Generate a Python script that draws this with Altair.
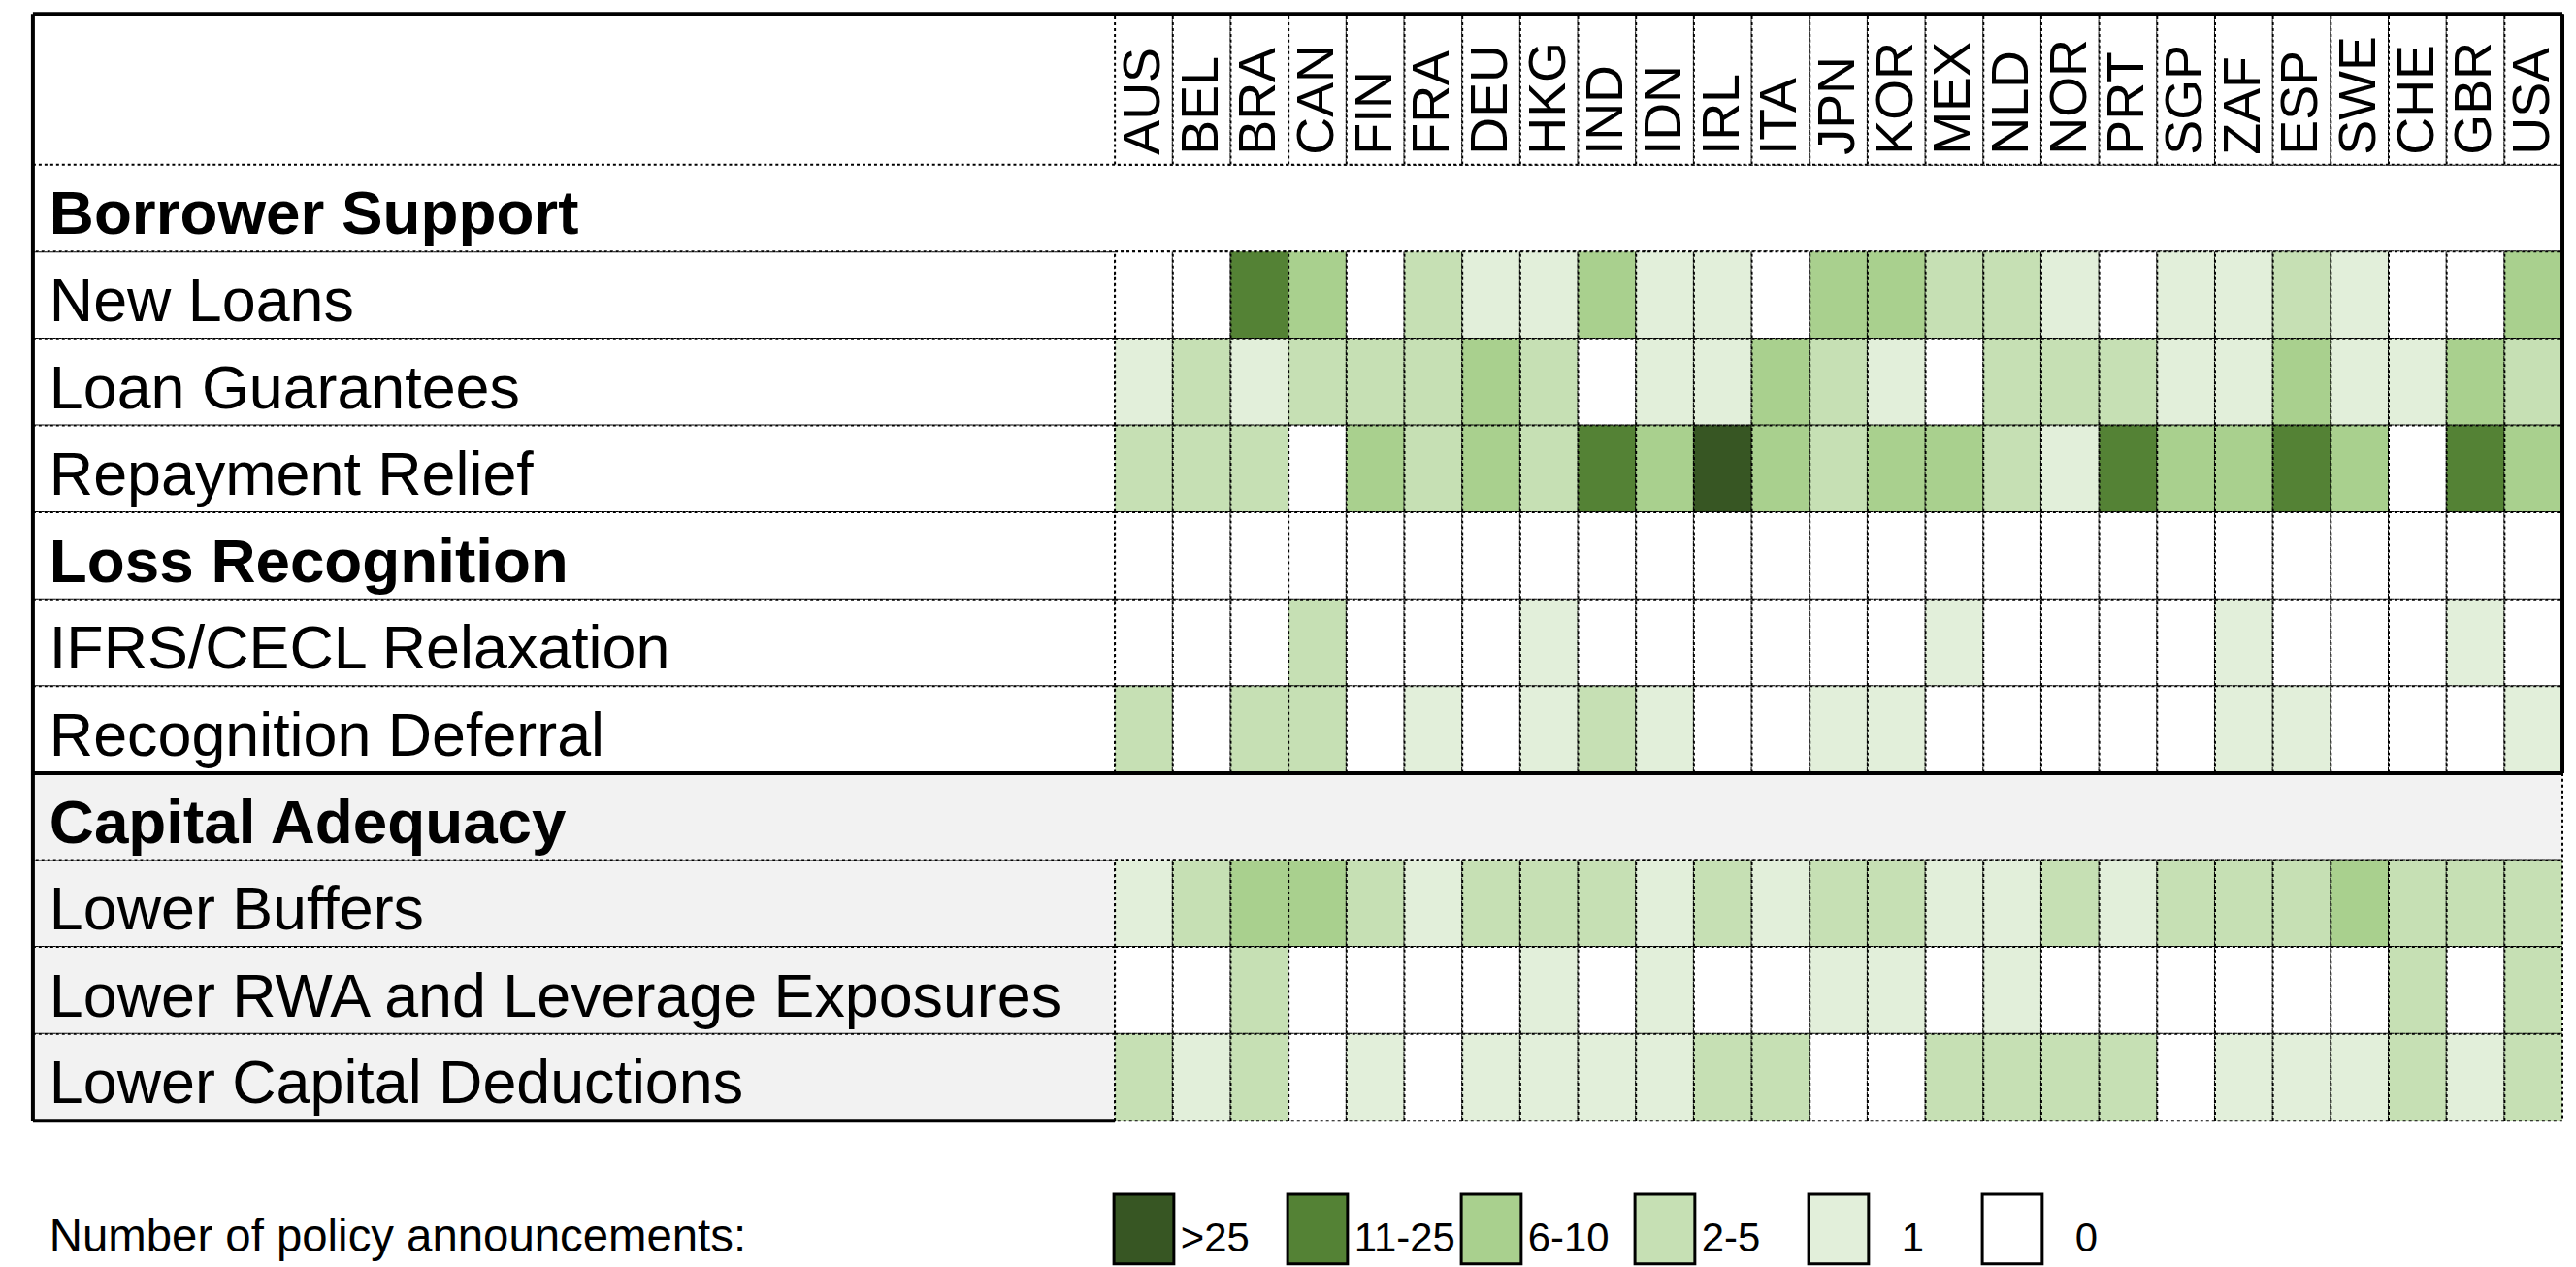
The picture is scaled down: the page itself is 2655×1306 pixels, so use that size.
import altair as alt
import pandas as pd

# ---------------- data ----------------
countries = ["AUS", "BEL", "BRA", "CAN", "FIN", "FRA", "DEU", "HKG", "IND", "IDN",
             "IRL", "ITA", "JPN", "KOR", "MEX", "NLD", "NOR", "PRT", "SGP", "ZAF",
             "ESP", "SWE", "CHE", "GBR", "USA"]

row_labels = ["Borrower Support", "New Loans", "Loan Guarantees", "Repayment Relief",
              "Loss Recognition", "IFRS/CECL Relaxation", "Recognition Deferral",
              "Capital Adequacy", "Lower Buffers", "Lower RWA and Leverage Exposures",
              "Lower Capital Deductions"]
section_rows = ["Borrower Support", "Loss Recognition", "Capital Adequacy"]
spanning_rows = ["Borrower Support", "Capital Adequacy"]
gray_rows = ["Capital Adequacy", "Lower Buffers", "Lower RWA and Leverage Exposures",
             "Lower Capital Deductions"]

bins = ["0", "1", "2-5", "6-10", "11-25", ">25"]
bin_colors = ["#FFFFFF", "#E2EFDA", "#C6E0B4", "#A9D08E", "#548235", "#375623"]
legend_order = [">25", "11-25", "6-10", "2-5", "1", "0"]
legend_title = "Number of policy announcements:"

# bin index per country (0:"0", 1:"1", 2:"2-5", 3:"6-10", 4:"11-25", 5:">25")
new_loans = [0, 0, 4, 3, 0, 2, 1, 1, 3, 1, 1, 0, 3, 3, 2, 2, 1, 0, 1, 1, 2, 1, 0, 0, 3]
loan_guarantees = [1, 2, 1, 2, 2, 2, 3, 2, 0, 1, 1, 3, 2, 1, 0, 2, 2, 2, 1, 1, 3, 1, 1, 3, 2]
repayment_relief = [2, 2, 2, 0, 3, 2, 3, 2, 4, 3, 5, 3, 2, 3, 3, 2, 1, 4, 3, 3, 4, 3, 0, 4, 3]
loss_recognition = [0] * 25
ifrs_cecl = [0, 0, 0, 2, 0, 0, 0, 1, 0, 0, 0, 0, 0, 0, 1, 0, 0, 0, 0, 1, 0, 0, 0, 1, 0]
recognition_deferral = [2, 0, 2, 2, 0, 1, 0, 1, 2, 1, 0, 0, 1, 1, 0, 0, 0, 0, 0, 1, 1, 0, 0, 0, 1]
lower_buffers = [1, 2, 3, 3, 2, 1, 2, 2, 2, 1, 2, 1, 2, 2, 1, 1, 2, 1, 2, 2, 2, 3, 2, 2, 2]
lower_rwa = [0, 0, 2, 0, 0, 0, 0, 1, 0, 1, 0, 0, 1, 1, 0, 1, 0, 0, 0, 0, 0, 0, 2, 0, 2]
lower_cap_deductions = [2, 1, 2, 0, 1, 0, 1, 1, 1, 1, 2, 2, 0, 0, 2, 2, 2, 2, 0, 1, 1, 1, 2, 1, 2]

cell_rows = {
    "New Loans": new_loans,
    "Loan Guarantees": loan_guarantees,
    "Repayment Relief": repayment_relief,
    "Loss Recognition": loss_recognition,
    "IFRS/CECL Relaxation": ifrs_cecl,
    "Recognition Deferral": recognition_deferral,
    "Lower Buffers": lower_buffers,
    "Lower RWA and Leverage Exposures": lower_rwa,
    "Lower Capital Deductions": lower_cap_deductions,
}

# ---------------- tables ----------------
cells_df = pd.DataFrame([
    {"row": r, "country": c, "bin": bins[v]}
    for r, vals in cell_rows.items() for c, v in zip(countries, vals)
])
country_df = pd.DataFrame({"country": countries})
label_df = pd.DataFrame([
    {"row": r, "bg": "#F2F2F2" if r in gray_rows else "#FFFFFF"}
    for r in row_labels if r not in spanning_rows
])
span_df = pd.DataFrame([
    {"row": r, "bg": "#F2F2F2" if r in gray_rows else "#FFFFFF"} for r in spanning_rows
])
head_df = pd.DataFrame({"row": [r for r in row_labels if r in section_rows]})
item_df = pd.DataFrame({"row": [r for r in row_labels if r not in section_rows]})
legend_df = pd.DataFrame({"bin": legend_order})
legend_long_df = pd.DataFrame({"bin": [b for b in legend_order if len(b) > 1]})
legend_short_df = pd.DataFrame({"bin": [b for b in legend_order if len(b) == 1]})
title_df = pd.DataFrame({"t": [legend_title]})
sep_df = pd.DataFrame({"row": ["Capital Adequacy"]})

# ---------------- layout ----------------
W = 2616
TABLE_H = 1145
HEADER_H = 156
LABEL_W = 1119
FONT = "Liberation Sans, Arial, sans-serif"

xs = alt.Scale(type="band", domain=countries, range=[LABEL_W, W],
               paddingInner=0, paddingOuter=0)
ys = alt.Scale(type="band", domain=row_labels, range=[HEADER_H, TABLE_H],
               paddingInner=0, paddingOuter=0)
fill_scale = alt.Scale(domain=bins, range=bin_colors)
X = alt.X("country:N", scale=xs, axis=None)
Y = alt.Y("row:N", scale=ys, axis=None)
dotted = dict(stroke="black", strokeWidth=2, strokeDash=[3, 3])

label_bg = alt.Chart(label_df).mark_rect(**dotted).encode(
    x=alt.value(0), x2=alt.value(LABEL_W), y=Y, fill=alt.Fill("bg:N", scale=None))
span_bg = alt.Chart(span_df).mark_rect(**dotted).encode(
    x=alt.value(0), x2=alt.value(W), y=Y, fill=alt.Fill("bg:N", scale=None))
header_cells = alt.Chart(country_df).mark_rect(fill="white", **dotted).encode(
    x=X, y=alt.value(0), y2=alt.value(HEADER_H))
cells = alt.Chart(cells_df).mark_rect(**dotted).encode(
    x=X, y=Y, fill=alt.Fill("bin:N", scale=fill_scale, legend=None))

col_text = alt.Chart(country_df).mark_text(
    angle=270, align="left", baseline="middle", fontSize=54, font=FONT, color="black"
).encode(x=alt.X("country:N", scale=xs, axis=None, bandPosition=0.5),
         y=alt.value(HEADER_H - 10), text="country:N")

head_text = alt.Chart(head_df).mark_text(
    align="left", baseline="alphabetic", dy=27, fontSize=64, fontWeight="bold",
    font=FONT, color="black"
).encode(x=alt.value(17), y=alt.Y("row:N", scale=ys, axis=None, bandPosition=0.5),
         text="row:N")
item_text = alt.Chart(item_df).mark_text(
    align="left", baseline="alphabetic", dy=27, fontSize=63, font=FONT, color="black"
).encode(x=alt.value(17), y=alt.Y("row:N", scale=ys, axis=None, bandPosition=0.5),
         text="row:N")

thick = dict(color="black", strokeWidth=4)
SEP_Y = alt.Y("row:N", scale=ys, axis=None, bandPosition=0)
top_rule = alt.Chart(title_df).mark_rule(**thick).encode(
    x=alt.value(0), x2=alt.value(W), y=alt.value(0))
left_rule = alt.Chart(title_df).mark_rule(**thick).encode(
    x=alt.value(0), y=alt.value(0), y2=alt.value(TABLE_H))
bottom_rule = alt.Chart(title_df).mark_rule(**thick).encode(
    x=alt.value(0), x2=alt.value(LABEL_W), y=alt.value(TABLE_H))
sep_rule = alt.Chart(sep_df).mark_rule(**thick).encode(
    x=alt.value(0), x2=alt.value(W), y=SEP_Y)
right_rule = alt.Chart(sep_df).mark_rule(**thick).encode(
    x=alt.value(W), y=SEP_Y, y2=alt.value(0))

leg_scale = alt.Scale(type="band", domain=legend_order, range=[1118, 2078],
                      paddingInner=0.655, paddingOuter=0)
LXT = alt.X("bin:N", scale=leg_scale, axis=None, bandPosition=0.5)
legend_boxes = alt.Chart(legend_df).mark_rect(stroke="black", strokeWidth=3).encode(
    x=alt.X("bin:N", scale=leg_scale, axis=None), y=alt.value(1221), y2=alt.value(1293),
    fill=alt.Fill("bin:N", scale=fill_scale, legend=None))
legend_labels_long = alt.Chart(legend_long_df).mark_text(
    align="left", baseline="alphabetic", dx=38, fontSize=42, font=FONT, color="black"
).encode(x=LXT, y=alt.value(1280), text="bin:N")
legend_labels_short = alt.Chart(legend_short_df).mark_text(
    align="left", baseline="alphabetic", dx=65, fontSize=42, font=FONT, color="black"
).encode(x=LXT, y=alt.value(1280), text="bin:N")
legend_title_t = alt.Chart(title_df).mark_text(
    align="left", baseline="alphabetic", fontSize=47.5, font=FONT, color="black"
).encode(x=alt.value(17), y=alt.value(1280), text="t:N")

chart = alt.layer(
    label_bg, span_bg, header_cells, cells, col_text, head_text, item_text,
    sep_rule, top_rule, left_rule, bottom_rule, right_rule,
    legend_boxes, legend_labels_long, legend_labels_short, legend_title_t
).resolve_scale(x="independent", y="independent", fill="independent").properties(
    width=W, height=1296,
    autosize=alt.AutoSizeParams(type="none"),
    padding={"left": 26, "top": 4, "right": 6, "bottom": 2},
    background="white",
).configure_view(stroke=None)

chart.save("out.html", embed_options={"renderer": "svg", "actions": False})
